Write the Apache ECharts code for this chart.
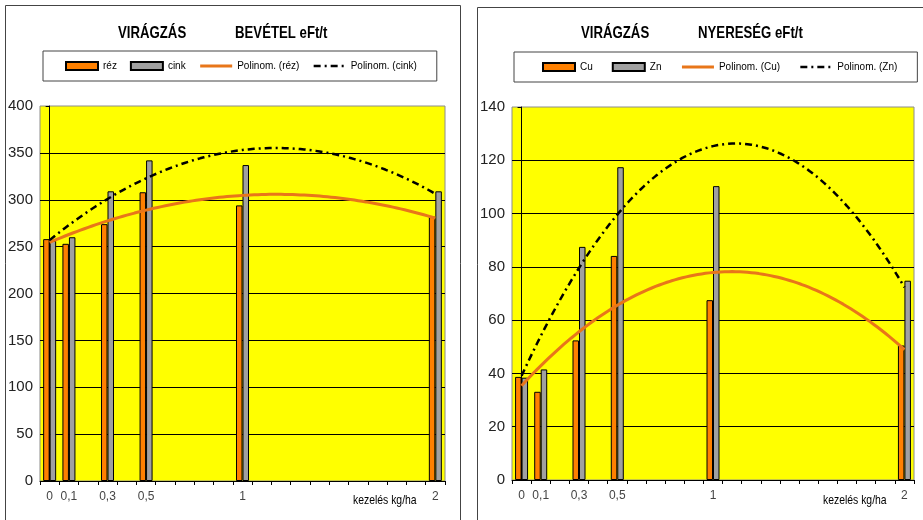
<!DOCTYPE html>
<html>
<head>
<meta charset="utf-8">
<title>Virágzás – bevétel és nyereség</title>
<script src="https://cdn.jsdelivr.net/npm/echarts@6/dist/echarts.min.js"></script>
<style>
  html, body { margin: 0; padding: 0; background: #ffffff; }
  #chart { width: 923px; height: 520px; }
</style>
</head>
<body>
<div id="chart"></div>
<script>
// Treatment doses (kg/ha) and their axis labels
const doses = [0, 0.1, 0.3, 0.5, 1, 2];
const doseLabels = ['0', '0,1', '0,3', '0,5', '1', '2'];

// Revenue, eFt/t
const rez = [258, 253, 274, 308, 294, 282];
const cink = [256, 260, 309, 342, 337, 309];

// Profit, eFt/t
const cu = [38.7, 33.1, 52.4, 84.1, 67.5, 50.5];
const zn = [38.4, 41.5, 87.5, 117.4, 110.3, 74.8];

// The dose axis runs from 0 to 2 in 0.1 steps; only treated doses get a label
const step = 0.1;
const slotCount = Math.round(2 / step) + 1;
const slotIndex = d => Math.round(d / step);
const slotLabels = Array.from({ length: slotCount }, () => '');
doses.forEach((d, i) => { slotLabels[slotIndex(d)] = doseLabels[i]; });

function toSlots(values) {
  const out = Array.from({ length: slotCount }, () => '-');
  doses.forEach((d, i) => { out[slotIndex(d)] = values[i]; });
  return out;
}

// Second-order least-squares trendline (Excel "Polinom.")
function quadFit(xs, ys) {
  let n = xs.length, sx = 0, sx2 = 0, sx3 = 0, sx4 = 0, sy = 0, sxy = 0, sx2y = 0;
  for (let i = 0; i < n; i++) {
    const x = xs[i], y = ys[i], x2 = x * x;
    sx += x; sx2 += x2; sx3 += x2 * x; sx4 += x2 * x2;
    sy += y; sxy += x * y; sx2y += x2 * y;
  }
  const M = [[n, sx, sx2], [sx, sx2, sx3], [sx2, sx3, sx4]];
  const R = [sy, sxy, sx2y];
  const det = m => m[0][0] * (m[1][1] * m[2][2] - m[1][2] * m[2][1])
                 - m[0][1] * (m[1][0] * m[2][2] - m[1][2] * m[2][0])
                 + m[0][2] * (m[1][0] * m[2][1] - m[1][1] * m[2][0]);
  const D = det(M);
  return [0, 1, 2].map(k => det(M.map((row, r) => row.map((v, c) => (c === k ? R[r] : v)))) / D);
}
function trendCurve(values) {
  const [a, b, c] = quadFit(doses, values);
  const pts = [];
  for (let i = 0; i <= 100; i++) {
    const x = doses[0] + (doses[doses.length - 1] - doses[0]) * i / 100;
    pts.push([x, a + b * x + c * x * x]);
  }
  return pts;
}

const FONT = '"Liberation Sans Narrow", "Arial Narrow", "Liberation Sans", Arial, sans-serif';
const NARROW = 0.8;   // horizontal squeeze for title / axis-name text
const ORANGE_BAR = '#FF8000';
const ORANGE_LINE = '#E8761A';
const GREY_BAR = '#A0A0A0';
const DASH_DOT = [7, 4, 2, 4];
const ORANGE_TREND = { color: ORANGE_LINE, width: 3 };
const BLACK_TREND = { color: '#000', width: 2.5, type: DASH_DOT };

const chart = echarts.init(document.getElementById('chart'), null, { renderer: 'canvas' });

function gridCfg(left, top, width, height) {
  return { left, top, width, height, show: true, backgroundColor: '#FFFF00',
           borderColor: '#8c8c8c', borderWidth: 1, containLabel: false };
}
function catAxis(gridIndex) {
  return {
    type: 'category', gridIndex, data: slotLabels, boundaryGap: true,
    axisLine: { lineStyle: { color: '#000', width: 1 } },
    axisTick: { show: true, interval: 0, length: 4, lineStyle: { color: '#000' } },
    axisLabel: { interval: 0, margin: 10, fontSize: 12, fontFamily: FONT, color: '#444' },
    splitLine: { show: false }
  };
}
function trendAxis(gridIndex) {
  return { type: 'value', gridIndex, min: -step / 2, max: 2 + step / 2, show: false };
}
function valAxis(gridIndex, max, interval) {
  return {
    type: 'value', gridIndex, min: 0, max, interval,
    axisLine: { show: true, lineStyle: { color: '#000' } },
    axisTick: { show: true, length: 4, lineStyle: { color: '#000' } },
    axisLabel: { margin: 7, fontSize: 15, fontFamily: FONT, color: '#222' },
    splitLine: { show: true, showMaxLine: false, lineStyle: { color: '#000', width: 1 } }
  };
}
function barSeries(name, values, color, xi, yi) {
  return {
    name, type: 'bar', xAxisIndex: xi, yAxisIndex: yi, data: toSlots(values),
    barWidth: 6.5, barGap: '0%',
    itemStyle: { color, borderColor: '#000', borderWidth: 1 },
    emphasis: { disabled: true }
  };
}
function lineSeries(name, values, lineStyle, xi, yi) {
  return {
    name, type: 'line', xAxisIndex: xi, yAxisIndex: yi, data: trendCurve(values),
    symbol: 'none', showSymbol: false, smooth: false, lineStyle,
    itemStyle: { color: lineStyle.color },
    emphasis: { disabled: true }, z: 3
  };
}
const legendBase = {
  orient: 'horizontal', itemWidth: 32, itemHeight: 8, selectedMode: false,
  borderColor: '#444', borderWidth: 1, backgroundColor: '#fff',
  textStyle: { fontSize: 10, fontFamily: FONT, color: '#000' }
};
const trendItem = (name, lineStyle) => ({ name, itemStyle: { opacity: 0 }, lineStyle: Object.assign({}, lineStyle) });

// Squeezed text placed by its left edge and vertical middle
function narrowText(text, x, y, fontSize, fontWeight) {
  return {
    type: 'group', x, y, scaleX: NARROW, silent: true,
    children: [{ type: 'text', x: 0, y: 0,
      style: { text, fontSize, fontWeight, fontFamily: FONT, fill: '#000', align: 'left', verticalAlign: 'middle' } }]
  };
}

chart.setOption({
  animation: false,
  backgroundColor: '#ffffff',
  legend: [
    Object.assign({}, legendBase, {
      left: 43, top: 51, itemGap: 13, padding: [10, 20, 10, 22],
      data: [{ name: 'réz', icon: 'rect' }, { name: 'cink', icon: 'rect' },
             trendItem('Polinom. (réz)', ORANGE_TREND), trendItem('Polinom. (cink)', BLACK_TREND)]
    }),
    Object.assign({}, legendBase, {
      left: 514, top: 52, itemGap: 19, padding: [10, 20, 10, 28],
      data: [{ name: 'Cu', icon: 'rect' }, { name: 'Zn', icon: 'rect' },
             trendItem('Polinom. (Cu)', ORANGE_TREND), trendItem('Polinom. (Zn)', BLACK_TREND)]
    })
  ],
  grid: [gridCfg(40, 106, 405, 375), gridCfg(512, 107, 402, 373)],
  xAxis: [catAxis(0), trendAxis(0), catAxis(1), trendAxis(1)],
  yAxis: [valAxis(0, 400, 50), valAxis(1, 140, 20)],
  series: [
    barSeries('réz', rez, ORANGE_BAR, 0, 0),
    barSeries('cink', cink, GREY_BAR, 0, 0),
    lineSeries('Polinom. (réz)', rez, ORANGE_TREND, 1, 0),
    lineSeries('Polinom. (cink)', cink, BLACK_TREND, 1, 0),
    barSeries('Cu', cu, ORANGE_BAR, 2, 1),
    barSeries('Zn', zn, GREY_BAR, 2, 1),
    lineSeries('Polinom. (Cu)', cu, ORANGE_TREND, 3, 1),
    lineSeries('Polinom. (Zn)', zn, BLACK_TREND, 3, 1)
  ],
  graphic: [
    { type: 'rect', silent: true, z: -10, shape: { x: 5.5, y: 5.5, width: 455, height: 530 },
      style: { fill: 'none', stroke: '#444', lineWidth: 1 } },
    { type: 'rect', silent: true, z: -10, shape: { x: 477.5, y: 7.5, width: 460, height: 530 },
      style: { fill: 'none', stroke: '#444', lineWidth: 1 } },
    narrowText('VIRÁGZÁS', 118, 33, 16.5, 'bold'),
    narrowText('BEVÉTEL eFt/t', 235, 33, 16.5, 'bold'),
    narrowText('VIRÁGZÁS', 581, 33, 16.5, 'bold'),
    narrowText('NYERESÉG eFt/t', 698, 33, 16.5, 'bold'),
    narrowText('kezelés kg/ha', 353, 500, 13, 'normal'),
    narrowText('kezelés kg/ha', 823, 500, 13, 'normal')
  ]
});
</script>
</body>
</html>
